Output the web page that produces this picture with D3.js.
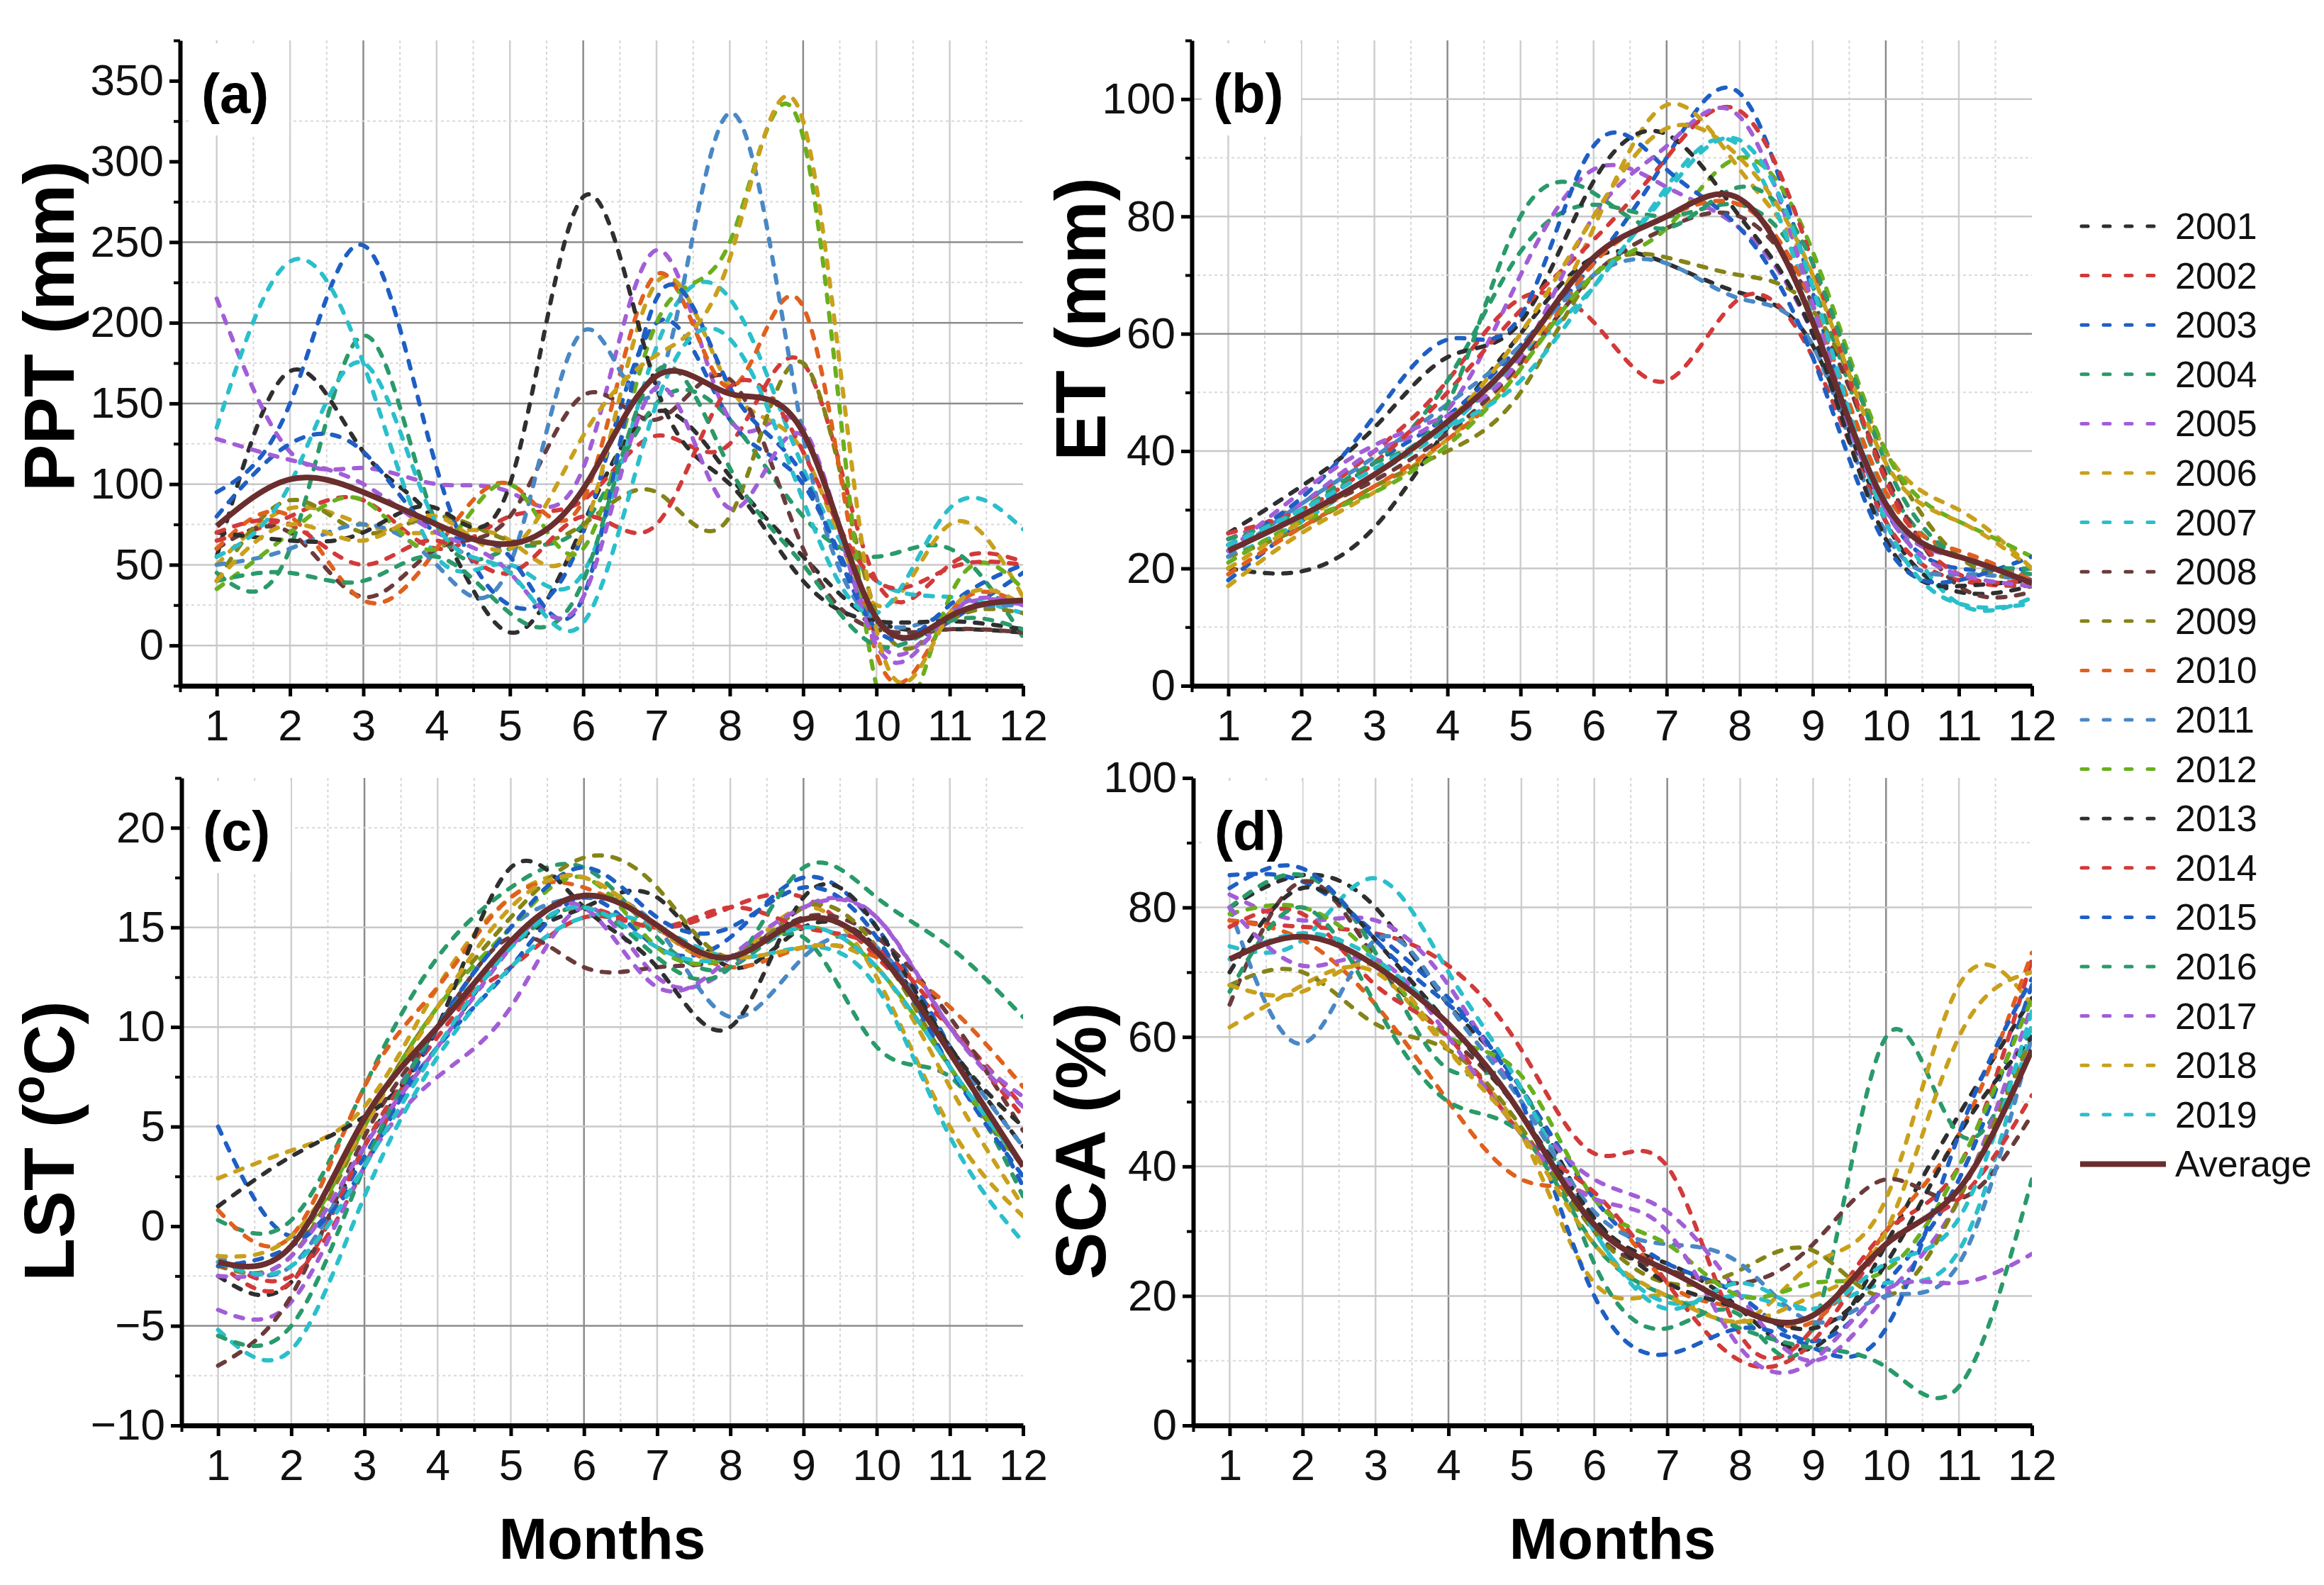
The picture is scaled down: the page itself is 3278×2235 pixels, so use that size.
<!DOCTYPE html>
<html>
<head>
<meta charset="utf-8">
<script src="https://cdn.jsdelivr.net/npm/d3@7"></script>
<style>
  body { margin: 0; background: #fff; }
  svg { display: block; font-family: "Liberation Sans", Arial, sans-serif; }
</style>
</head>
<body>
<svg width="3278" height="2235"></svg>
<script>
// data (monthly values, 2001-2019 + average)
const months = d3.range(1, 13)
const years = d3.range(2001, 2020)
const palette = ['#2f2f2f', '#d23a3a', '#1f5fc4', '#2a9a6a', '#a25ed6', '#c9a01c',
  '#2abfcb', '#6b3b3b', '#848418', '#e0601e', '#4a88c4', '#6aaf1e']
const avgColor = '#6a2e2e'

const pptYears = [
  [55, 170, 120, 75, 8, 75, 145, 105, 55, 15, 10, 8],
  [65, 80, 90, 60, 80, 90, 130, 125, 175, 40, 50, 52],
  [95, 150, 248, 110, 25, 70, 200, 140, 100, 15, 15, 45],
  [45, 60, 192, 75, 60, 75, 150, 140, 80, 55, 60, 5],
  [215, 120, 110, 100, 95, 110, 245, 140, 135, 5, 20, 25],
  [50, 85, 75, 70, 65, 70, 225, 160, 120, 25, 75, 30],
  [135, 238, 175, 55, 50, 45, 185, 215, 110, 40, 30, 20],
  [60, 70, 30, 60, 80, 155, 140, 165, 60, 10, 10, 8],
  [40, 90, 70, 80, 65, 75, 95, 80, 175, 20, 15, 20],
  [60, 80, 28, 60, 100, 90, 230, 160, 210, -5, 20, 25],
  [50, 60, 75, 50, 50, 195, 160, 330, 130, 15, 20, 25],
  [35, 70, 90, 60, 100, 60, 200, 250, 315, -25, 30, 35],
  [70, 65, 70, 85, 100, 278, 160, 100, 40, 15, 15, 10],
  [70, 75, 50, 65, 45, 80, 75, 160, 120, 40, 48, 50],
  [80, 125, 120, 70, 55, 30, 215, 160, 105, 10, 25, 50],
  [40, 45, 40, 55, 20, 40, 170, 110, 50, 0, 15, 10],
  [128, 115, 100, 70, 45, 30, 160, 85, 130, 0, 20, 25],
  [40, 75, 65, 80, 60, 130, 180, 240, 325, 10, 20, 25],
  [55, 100, 175, 75, 45, 14, 150, 190, 90, 20, 85, 72]
]
const pptAvg = [74, 103, 95, 75, 63, 97, 167, 156, 132, 17, 18, 28]

const etYears = [
  [20, 19.5, 27, 44, 60, 73, 72, 67, 58, 28, 16, 17],
  [25, 31, 40, 52, 66, 62, 52, 66, 56, 28, 18, 17],
  [18, 28, 38, 46, 58, 72, 90, 101, 67, 30, 20, 20],
  [24, 30, 38, 52, 74, 82, 80, 82, 68, 35, 22, 19],
  [25, 31, 40, 47, 70, 88, 85, 78, 60, 30, 22, 18],
  [17, 26, 33, 42, 55, 78, 99, 88, 70, 40, 30, 20],
  [22, 28, 36, 44, 56, 68, 85, 92, 64, 32, 14, 15],
  [23, 29, 35, 43, 55, 70, 78, 80, 65, 36, 17, 16],
  [22, 27, 34, 40, 50, 70, 73, 70, 64, 40, 22, 18],
  [19, 27, 34, 42, 54, 72, 80, 82, 65, 33, 23, 18],
  [22, 31, 39, 48, 58, 70, 72, 66, 58, 26, 19, 18],
  [21, 28, 33, 41, 54, 70, 78, 90, 74, 40, 28, 22],
  [26, 34, 44, 56, 62, 86, 94, 80, 60, 25, 17, 18],
  [26, 30, 38, 50, 64, 76, 90, 98, 72, 35, 19, 18],
  [24, 32, 46, 59, 63, 92, 88, 78, 56, 24, 18, 22],
  [25, 30, 38, 48, 80, 84, 78, 85, 72, 38, 22, 20],
  [23, 33, 41, 46, 56, 80, 92, 97, 65, 30, 19, 17],
  [20, 28, 36, 45, 60, 80, 95, 90, 70, 38, 28, 20],
  [24, 30, 37, 44, 52, 68, 84, 93, 68, 28, 14, 14]
]
const etAvg = [23, 29, 36, 45, 57, 73, 80, 83, 62, 31, 22, 17.5]

const lstYears = [
  [-2.5, -2.8, 4, 9, 14, 16, 16.5, 13, 15, 14, 9, 4],
  [-1.5, -2.5, 3, 10, 13, 15.5, 15, 16, 16.5, 13.5, 10, 6],
  [5, -0.5, 3.5, 9, 13, 16.5, 14, 14.5, 17.5, 15, 9, 2],
  [0.3, 0.3, 7, 13.5, 17, 18, 14.5, 13, 14.5, 9, 7.5, 1.5],
  [-4.2, -3.8, 3, 7.5, 11, 16, 12.5, 13, 16, 15.5, 10, 6.5],
  [2.4, 3.8, 6, 12, 16.5, 17.5, 15, 13.5, 16, 12.5, 5, 0.5],
  [-5.2, -6.2, 1.5, 8.5, 13, 15.5, 15, 13.5, 14, 12, 4.5, -0.8],
  [-7, -3.5, 4.5, 10, 14.5, 13, 13, 13.5, 15.5, 14.5, 10.5, 4.8],
  [-2, -1.5, 5, 11, 15.5, 18.5, 17, 13.5, 16, 14, 8, 3],
  [0.8, -0.5, 7, 12, 16.5, 17, 15, 13, 14, 13.5, 11, 7],
  [-1.5, -2, 4, 10, 15, 16.5, 15, 10.5, 13.5, 14, 9, 4],
  [-2, -1, 5, 11, 15, 17.5, 14, 13.5, 15, 13, 8, 3],
  [1, 3.5, 5.5, 10, 18, 16, 13, 10, 16.5, 15, 9, 5],
  [-1.8, -2.8, 4, 9.5, 14, 16, 15, 16, 15, 14, 10, 5.5],
  [-2, -1, 3, 10, 15, 18, 15.5, 15, 17, 14.5, 8, 2.5],
  [-5.5, -5, 3, 10, 14, 16, 13.5, 13, 18, 16.5, 14, 10.5],
  [-2.5, -1.5, 4, 9, 14, 16, 12, 13.5, 16, 15.5, 10, 6],
  [-1.5, -0.5, 5, 11, 16, 17.5, 15, 13.5, 14, 13, 7, 1],
  [-1.8, -2, 3, 9, 14, 16, 14, 13.5, 15, 13, 8, 3]
]
const lstAvg = [-1.8, -1.0, 5.4, 10.0, 14.3, 16.6, 15.1, 13.5, 15.4, 13.8, 8.7, 3.0]

const scaYears = [
  [80, 85, 80, 65, 52, 32, 25, 18, 12, 28, 48, 66],
  [78, 77, 76, 71, 58, 42, 40, 14, 15, 30, 40, 72],
  [85, 84, 76, 66, 52, 35, 25, 20, 13, 22, 38, 68],
  [80, 85, 73, 55, 52, 25, 15, 17, 15, 60, 45, 62],
  [82, 78, 78, 68, 50, 38, 33, 20, 10, 20, 35, 65],
  [61.5, 68, 70, 58, 45, 22, 20, 16, 25, 35, 68, 65],
  [74, 75, 84.5, 70, 52, 30, 19, 20, 18, 22, 27, 62],
  [65, 84, 72, 60, 48, 30, 24, 22, 28, 38, 35, 48],
  [68, 70, 62, 58, 46, 30, 22, 24, 27, 20, 35, 60],
  [78, 75, 65, 50, 38, 35, 22, 18, 16, 30, 45, 73],
  [80, 59, 75, 65, 50, 33, 28, 25, 16, 20, 25, 60],
  [79, 80, 72, 60, 54, 35, 28, 20, 22, 24, 40, 66],
  [70, 83, 75, 62, 48, 32, 22, 18, 15, 25, 45, 60],
  [77, 79, 68, 60, 45, 36, 22, 10, 13, 28, 35, 51],
  [83, 86, 75, 65, 50, 20, 11, 15, 12, 15, 45, 69],
  [67, 80, 65, 50, 45, 28, 20, 15, 12, 9, 6, 38],
  [80, 71, 72, 60, 45, 35, 30, 12, 10, 21, 22, 26.5],
  [68, 67, 71, 58, 45, 28, 20, 16, 20, 30, 60, 70],
  [72, 76, 72, 62, 48, 30, 18, 22, 18, 25, 32, 64]
]
const scaAvg = [72, 75.5, 71, 62, 48, 31, 24, 18, 17, 28, 36.5, 58]

const pptTicks = d3.range(0, 351, 50)
const etTicks = d3.range(0, 101, 20)
const lstTicks = d3.range(-10, 21, 5)
const scaTicks = d3.range(0, 101, 20)

const svg = d3.select('svg')

const panels = [
  { id: 'a', title: 'PPT (mm)', years: pptYears, avg: pptAvg, domain: [-25, 375], ticks: pptTicks, minor: 25,
    box: [254, 1443, 57, 967], titleY: 460, titleX: 69, darkX: [3, 6, 9], darkY: [150, 200, 250], gridY: [0, 50, 100, 150, 200, 250], minorY: d3.range(25, 326, 50) },
  { id: 'b', title: 'ET (mm)', years: etYears, avg: etAvg, domain: [0, 110], ticks: etTicks, minor: 10,
    box: [1681, 2866, 57, 967], titleY: 450, titleX: 1524, darkX: [4, 7, 10], darkY: [60], gridY: [20, 40, 60, 80, 100], minorY: d3.range(10, 91, 20) },
  { id: 'c', title: 'LST', years: lstYears, avg: lstAvg, domain: [-10, 22.5], ticks: lstTicks, minor: 2.5,
    box: [256, 1443, 1097, 2010], titleY: 1609, titleX: 69, darkX: [3, 6, 9], darkY: [-5], gridY: [-5, 5, 10, 15], minorY: [-7.5, -2.5, 2.5, 7.5, 12.5, 20] },
  { id: 'd', title: 'SCA (%)', years: scaYears, avg: scaAvg, domain: [0, 100], ticks: scaTicks, minor: 10,
    box: [1683, 2866, 1097, 2010], titleY: 1609, titleX: 1524, darkX: [4, 7, 10], darkY: [], gridY: [20, 40, 60, 80], minorY: d3.range(10, 91, 20) }
]

panels.forEach(p => {
  const [left, right, top, bottom] = p.box
  const x = d3.scaleLinear().domain([0.5, 12]).range([left, right])
  const y = d3.scaleLinear().domain(p.domain).range([bottom, top])
  const g = svg.append('g')

  // grid
  const grid = g.append('g')
  grid.selectAll('.vmin').data(d3.range(1.5, 12, 1)).join('line')
    .attr('x1', d => x(d)).attr('x2', d => x(d)).attr('y1', top).attr('y2', bottom)
    .attr('stroke', '#d6d6d6').attr('stroke-width', 2).attr('stroke-dasharray', '4,4')
  grid.selectAll('.vmaj').data(d3.range(1, 12)).join('line')
    .attr('x1', d => x(d)).attr('x2', d => x(d)).attr('y1', top).attr('y2', bottom)
    .attr('stroke', d => p.darkX.includes(d) ? '#8c8c8c' : '#cfcfcf')
    .attr('stroke-width', 2.5)
  grid.selectAll('.hmin').data(p.minorY).join('line')
    .attr('x1', left).attr('x2', right).attr('y1', d => y(d)).attr('y2', d => y(d))
    .attr('stroke', '#d9d9d9').attr('stroke-width', 2).attr('stroke-dasharray', '4,4')
  grid.selectAll('.hmaj').data(p.gridY).join('line')
    .attr('x1', left).attr('x2', right).attr('y1', d => y(d)).attr('y2', d => y(d))
    .attr('stroke', d => p.darkY.includes(d) ? '#8c8c8c' : '#c8c8c8')
    .attr('stroke-width', 2.5)

  // white box behind the panel letter
  g.append('rect').attr('x', left + 14).attr('y', top + 4).attr('width', 140).attr('height', 130).attr('fill', '#fff')

  // lines
  svg.append('clipPath').attr('id', 'clip-' + p.id)
    .append('rect').attr('x', left).attr('y', top).attr('width', right - left).attr('height', bottom - top)
  const line = d3.line().x((d, i) => x(months[i])).y(d => y(d)).curve(d3.curveNatural)
  const lg = g.append('g').attr('clip-path', `url(#clip-${p.id})`)
  lg.selectAll('.yr').data(p.years).join('path')
    .attr('d', line).attr('fill', 'none')
    .attr('stroke', (d, i) => palette[i % 12])
    .attr('stroke-width', 6).attr('stroke-linecap', 'round').attr('stroke-dasharray', '11,15')
  lg.append('path').datum(p.avg).attr('d', line).attr('fill', 'none')
    .attr('stroke', avgColor).attr('stroke-width', 8)

  // axes
  const minorX = d3.range(0.5, 12.01, 0.5).filter(d => d % 1 !== 0)
  const minorYt = d3.range(p.domain[0], p.domain[1] + 0.01, p.minor).filter(v => !p.ticks.includes(v))
  g.append('g').attr('transform', `translate(0,${bottom})`)
    .call(d3.axisBottom(x).tickValues(minorX).tickSize(9).tickSizeOuter(0).tickFormat(''))
    .call(a => a.select('.domain').remove())
    .call(a => a.selectAll('line').attr('stroke-width', 4))
  g.append('g').attr('transform', `translate(${left},0)`)
    .call(d3.axisLeft(y).tickValues(minorYt).tickSize(9).tickSizeOuter(0).tickFormat(''))
    .call(a => a.select('.domain').remove())
    .call(a => a.selectAll('line').attr('stroke-width', 4))

  const ax = g.append('g').attr('transform', `translate(0,${bottom})`)
    .call(d3.axisBottom(x).tickValues(months).tickSize(15).tickSizeOuter(0).tickPadding(18))
  ax.select('.domain').attr('stroke-width', 7)
  ax.selectAll('line').attr('stroke-width', 5)
  ax.selectAll('text').attr('font-size', 62).attr('fill', '#111')

  const ay = g.append('g').attr('transform', `translate(${left},0)`)
    .call(d3.axisLeft(y).tickValues(p.ticks).tickSize(15).tickSizeOuter(0).tickPadding(8))
  ay.select('.domain').attr('stroke-width', 6)
  ay.selectAll('line').attr('stroke-width', 5)
  ay.selectAll('text').attr('font-size', 62).attr('fill', '#111')

  // panel letter
  g.append('text').attr('x', left + 30).attr('y', top + 102)
    .attr('font-size', 78).attr('font-weight', 'bold').text(`(${p.id})`)

  // y title
  const t = g.append('text')
    .attr('transform', `translate(${p.titleX},${p.titleY}) rotate(-90)`)
    .attr('text-anchor', 'middle').attr('dominant-baseline', 'central')
    .attr('font-size', 100).attr('font-weight', 'bold')
  if (p.id === 'c') {
    t.append('tspan').text('LST (')
    t.append('tspan').attr('font-size', 66).attr('dy', -30).text('o')
    t.append('tspan').attr('dy', 30).text('C)')
  } else {
    t.text(p.title)
  }

  if (top > 1000) {
    g.append('text').attr('x', (left + right) / 2).attr('y', 2198)
      .attr('text-anchor', 'middle').attr('font-size', 82).attr('font-weight', 'bold').text('Months')
  }
})

// legend
const legend = svg.append('g')
const rowY = i => 319 + i * 69.6
years.forEach((yr, i) => {
  legend.append('line').attr('x1', 2936).attr('x2', 3040).attr('y1', rowY(i)).attr('y2', rowY(i))
    .attr('stroke', palette[i % 12]).attr('stroke-width', 5).attr('stroke-linecap', 'round')
    .attr('stroke-dasharray', '9,22')
  legend.append('text').attr('x', 3068).attr('y', rowY(i)).attr('dominant-baseline', 'central')
    .attr('font-size', 52).attr('fill', '#111').text(yr)
})
legend.append('line').attr('x1', 2934).attr('x2', 3055).attr('y1', rowY(19)).attr('y2', rowY(19))
  .attr('stroke', avgColor).attr('stroke-width', 8)
legend.append('text').attr('x', 3068).attr('y', rowY(19)).attr('dominant-baseline', 'central')
  .attr('font-size', 52).attr('fill', '#111').text('Average')
</script>
</body>
</html>
